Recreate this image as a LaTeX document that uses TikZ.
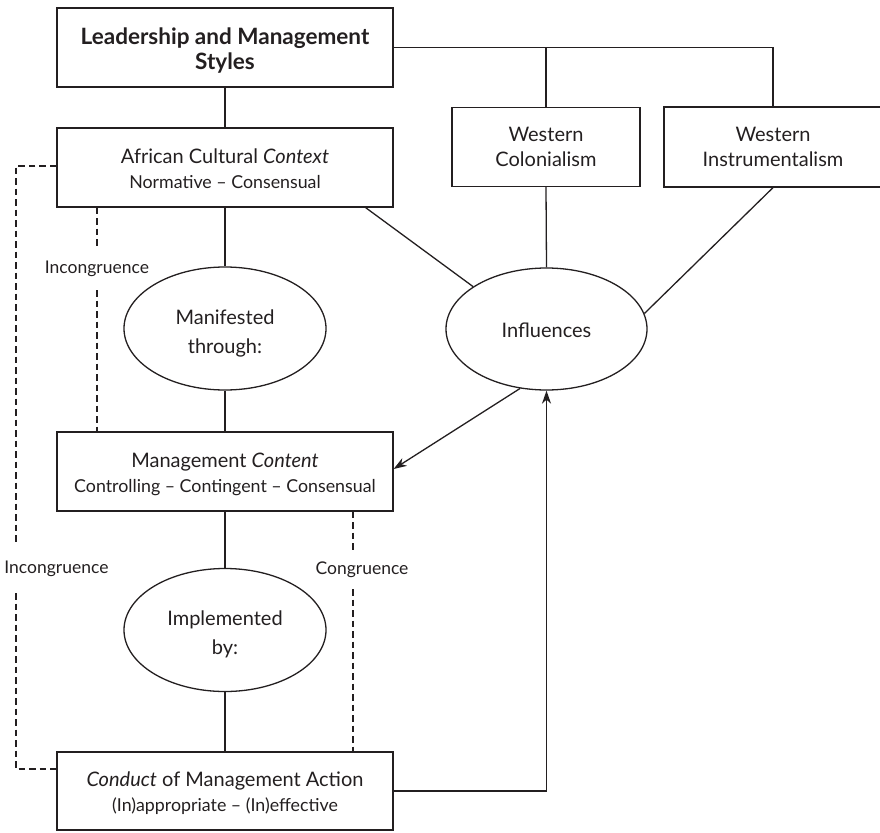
\documentclass[tikz,border=0pt]{standalone}
\usepackage{fontspec}
\setmainfont{Lato}
\usetikzlibrary{shapes.geometric,arrows.meta,calc}

\definecolor{ink}{RGB}{35,31,32}
\newcommand\fmain{\fontsize{20}{25}\selectfont}
\newcommand\fsub{\fontsize{17.8}{25}\selectfont}
\newcommand\flab{\fontsize{17.5}{20}\selectfont}
\newcommand\ftitle{\bfseries\fontsize{22.5}{25}\selectfont}
% invisible strut that lowers a node's text block a little
\newcommand\lowerby[1]{\rule{0pt}{#1}}

\begin{document}
\begin{tikzpicture}[x=1pt,y=-1pt,
  box/.style={draw=ink, line width=1.3pt, minimum width=336pt, minimum height=79pt,
    inner sep=0pt, align=center, text=ink, font=\fmain},
  oval/.style={ellipse, draw=ink, line width=1.3pt, minimum width=202pt,
    minimum height=123pt, inner sep=0pt, align=center, text=ink, font=\fmain},
  gaplabel/.style={inner sep=0pt, text=ink, font=\flab},
  link/.style={line width=1.3pt, draw=ink},
  dashlink/.style={line width=1.2pt, draw=ink, dash pattern=on 6.5pt off 4pt},
  arrowlink/.style={link, -{Stealth[length=13pt, width=9pt, inset=4pt]}}
]
\useasboundingbox (0,0) rectangle (880,832);

% main column
\node[box, font=\ftitle] (lead) at (225,47.5)
  {\lowerby{23pt}Leadership and Management\\Styles};
\node[box] (afr) at (225,167.5)
  {\lowerby{17pt}African Cultural \textit{Context}\\{\fsub Normative -- Consensual}};
\node[oval] (man) at (225,328.5) {\lowerby{25pt}Manifested\\[4pt]through:};
\node[box] (mgmt) at (225,471.5)
  {\lowerby{21pt}Management \textit{Content}\\{\fsub Controlling -- Contingent -- Consensual}};
\node[oval] (imp) at (225,630) {\lowerby{23pt}Implemented\\[4pt]by:};
\node[box, minimum height=78pt] (cond) at (225,791)
  {\lowerby{19pt}\textit{Conduct} of Management Action\\{\fsub (In)appropriate -- (In)effective}};

% western influences
\node[box, minimum width=188pt] (wcol) at (546,147) {Western\\Colonialism};
\node[box, minimum width=218pt, minimum height=80pt] (winst) at (773,147)
  {Western\\Instrumentalism};
\node[oval, minimum width=201pt, minimum height=122pt] (inf) at (546.5,329) {\lowerby{17pt}Influences};

% dashed-line labels
\node[gaplabel, minimum height=42pt] (incA) at (97,269) {Incongruence};
\node[gaplabel, minimum height=48pt] (incB) at (56.5,569) {Incongruence};
\node[gaplabel, minimum height=39pt] (cong) at (362,569.5) {Congruence};
\coordinate (outx) at (16,0);
\coordinate (congx) at (353,0);

% solid connectors
\draw[link] (lead.south) -- (afr.north);
\draw[link] (lead.east) -| (winst.north);
\draw[link] (lead.east -| wcol.north) -- (wcol.north);
\draw[link] (afr.south) -- (man.north);
\draw[link] (man.south) -- (mgmt.north);
\draw[link] (mgmt.south) -- (imp.north);
\draw[link] (imp.south) -- (cond.north);
\draw[link] ($(afr.south east)+(-28,0)$) -- (inf.150);
\draw[link] (wcol.south) -- (inf.north);
\draw[link] (winst.south) -- (inf.9);
\draw[arrowlink] (inf.246) -- ($(mgmt.east)+(0,-2.5)$);
\draw[arrowlink] (cond.east) -| (inf.south);

% dashed connectors
\draw[dashlink] (incA.north |- afr.south) -- (incA.north);
\draw[dashlink] (incA.south) -- (incA.south |- mgmt.north);
\draw[dashlink] ($(afr.west)+(0,-1.5)$) -| (outx |- incB.north);
\draw[dashlink] (outx |- incB.south) |- ($(cond.west)+(0,-22)$);
\draw[dashlink] (congx |- mgmt.south) -- (congx |- cong.north);
\draw[dashlink] (congx |- cong.south) -- (congx |- cond.north);
\end{tikzpicture}
\end{document}
